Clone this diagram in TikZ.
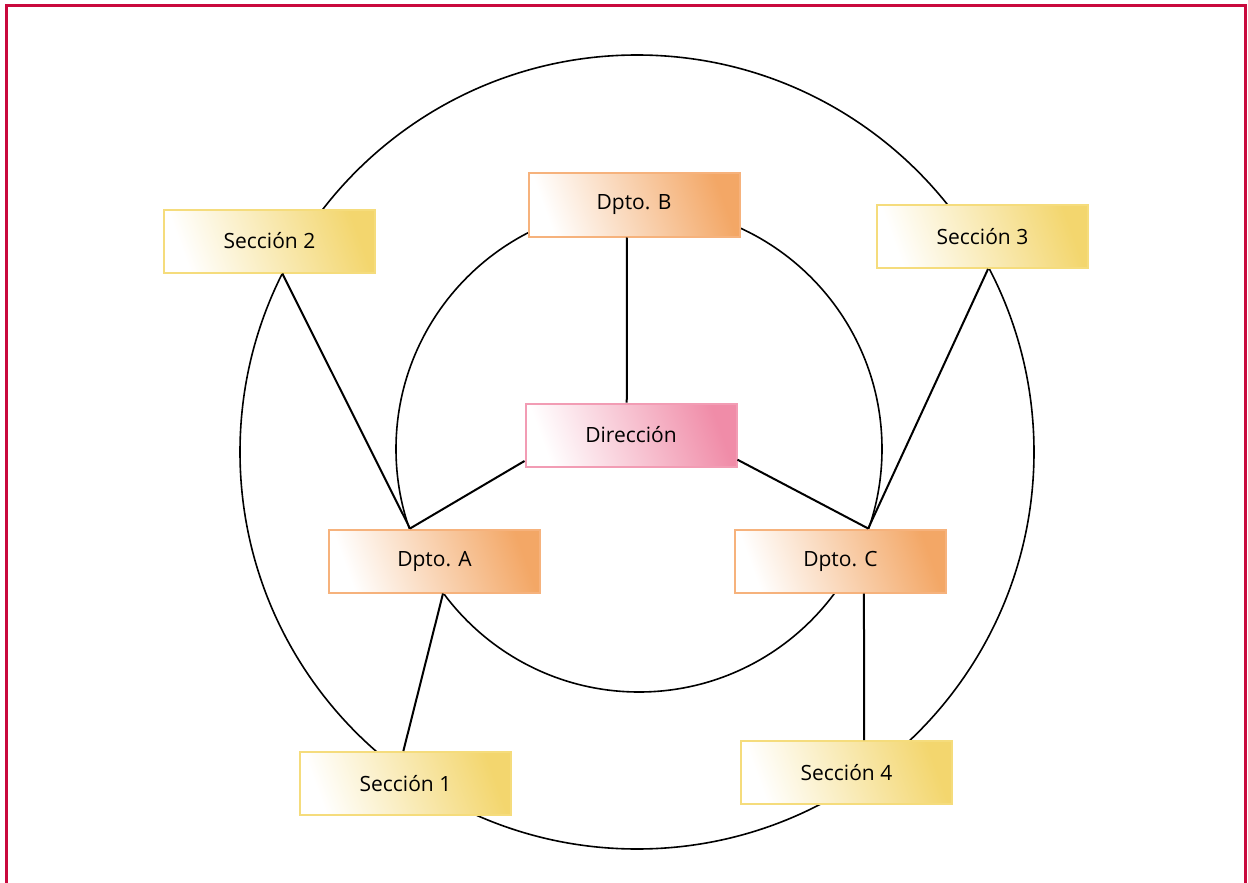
\documentclass[tikz,border=0pt]{standalone}
\usepackage{fontspec}
\setmainfont{Open Sans}
\usetikzlibrary{calc,positioning}

\definecolor{frameRed}{HTML}{C9093D}
\definecolor{dptoOrange}{HTML}{F3A766}
\definecolor{dptoLine}{HTML}{F6B27C}
\definecolor{secYellow}{HTML}{F3D66E}
\definecolor{secLine}{HTML}{F5DC7C}
\definecolor{dirPink}{HTML}{F08CA8}
\definecolor{dirLine}{HTML}{F29CB4}

\begin{document}
\begin{tikzpicture}[x = 0.5pt, y = -0.5pt,
  box/.style = {minimum width = 105.5pt, minimum height = 31.5pt, line width = 1pt,
    font = \fontsize{10.5}{12}\selectfont, inner sep = 0pt},
  dpto/.style = {box, draw = dptoLine, bottom color = white, middle color = dptoOrange!55,
    top color = dptoOrange, shading angle = -70},
  sec/.style = {box, draw = secLine, bottom color = white, middle color = secYellow!45,
    top color = secYellow, shading angle = -70},
  dir/.style = {box, draw = dirLine, bottom color = white, middle color = dirPink!50,
    top color = dirPink, shading angle = -70},
  link/.style = {line width = 1pt}]
\useasboundingbox (0,0) rectangle (1248,883);
\coordinate (O) at (637,452);
\coordinate (I) at (639,449);
% frame
\draw[frameRed, line width = 1.5pt] (6,900) -- (6,5.5) -- (1245,5.5) -- (1245,900);
% circles
\draw[line width = 0.8pt] (O) circle (397);
\draw[line width = 0.8pt] (I) circle (243);
% boxes
\node[dpto] (dptoB) at (634,205) {Dpto. B};
\node[dir] (direc) at (631,435) {Dirección};
\node[dpto] (dptoA) at (434.5,561) {Dpto. A};
\node[dpto] (dptoC) at (840.5,561) {Dpto. C};
\node[sec] (sec1) at (405.5,783.5) {Sección 1};
\node[sec] (sec2) at (269.5,241) {Sección 2};
\node[sec] (sec3) at (982.5,236.5) {Sección 3};
\node[sec] (sec4) at (846.5,772.5) {Sección 4};
% connectors
\coordinate (B1) at ($(dptoB.south west)!0.467!(dptoB.south east)$);
\coordinate (D1) at ($(direc.north west)!0.48!(direc.north east)$);
\coordinate (D2) at ($(direc.south west)!0.1!(direc.north west)$);
\coordinate (D3) at ($(direc.south east)!0.12!(direc.north east)$);
\coordinate (A1) at ($(dptoA.north west)!0.385!(dptoA.north east)$);
\coordinate (A2) at ($(dptoA.south west)!0.54!(dptoA.south east)$);
\coordinate (C1) at ($(dptoC.north west)!0.63!(dptoC.north east)$);
\coordinate (C2) at ($(dptoC.south west)!0.61!(dptoC.south east)$);
\coordinate (S1) at ($(sec1.north west)!0.49!(sec1.north east)$);
\coordinate (S2) at ($(sec2.south west)!0.56!(sec2.south east)$);
\coordinate (S3) at ($(sec3.south west)!0.526!(sec3.south east)$);
\coordinate (S4) at ($(sec4.north west)!0.583!(sec4.north east)$);
\draw[link] (B1) -- (D1);
\draw[link] (D2) -- (A1);
\draw[link] (D3) -- (C1);
\draw[link] (S2) -- (A1);
\draw[link] (S3) -- (C1);
\draw[link] (A2) -- (S1);
\draw[link] (C2) -- (S4);
\end{tikzpicture}
\end{document}
